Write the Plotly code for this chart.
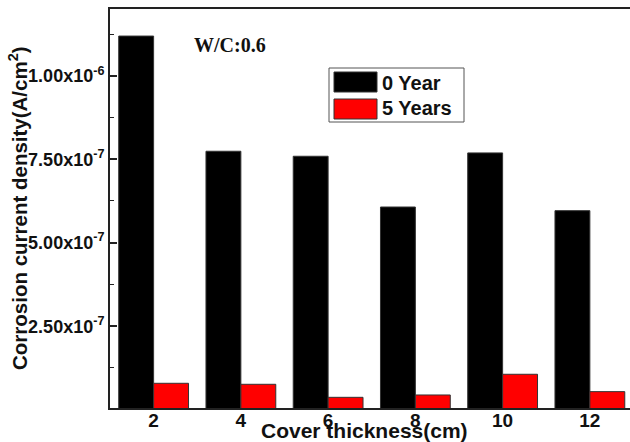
import plotly.graph_objects as go

thickness = [2, 4, 6, 8, 10, 12]
series_names = ["0 Year", "5 Years"]
year0 = [1.119e-6, 7.74e-7, 7.59e-7, 6.07e-7, 7.69e-7, 5.96e-7]
year5 = [7.9e-8, 7.6e-8, 3.7e-8, 4.4e-8, 1.06e-7, 5.4e-8]
ytick_vals = [2.5e-7, 5.0e-7, 7.5e-7, 1.0e-6]
ytick_text = ["2.50x10<sup>-7</sup>", "5.00x10<sup>-7</sup>", "7.50x10<sup>-7</sup>", "1.00x10<sup>-6</sup>"]
yminor_vals = [1.25e-7, 3.75e-7, 6.25e-7, 8.75e-7, 1.125e-6]
colors = ["#000000", "#ff0000"]

FONT = "Liberation Sans"

fig = go.Figure()
for name, vals, col in zip(series_names, [year0, year5], colors):
    fig.add_trace(go.Bar(
        x=thickness, y=vals, name=name,
        marker=dict(color=col, line=dict(color="#333333", width=1)),
        showlegend=False,
    ))

W, H = 630, 442
L, R, T, B = 110, 0, 9, 34
pw, ph = W - L - R, H - T - B

def px(x):
    return (x - L) / pw

def py(y):
    return (H - B - y) / ph

fig.update_layout(
    width=W, height=H,
    margin=dict(l=L, r=R, t=T, b=B, autoexpand=False),
    paper_bgcolor="white", plot_bgcolor="white",
    barmode="group", bargap=0.2, bargroupgap=0,
    font=dict(family=FONT, color="#111111"),
    xaxis=dict(
        range=[1, 12.92], tickvals=thickness, ticktext=[str(t) for t in thickness],
        showgrid=False, zeroline=False, showline=True, linecolor="#222222", linewidth=2,
        mirror=True, ticks="", tickfont=dict(family=FONT, size=19, weight="bold"),
        ticklabelstandoff=-6, automargin=False,
    ),
    yaxis=dict(
        range=[5e-9, 1.2e-6], tickmode="array", tickvals=ytick_vals, ticktext=ytick_text,
        showgrid=False, zeroline=False, showline=True, linecolor="#222222", linewidth=2,
        ticks="inside", ticklen=7, tickwidth=1.5, tickcolor="#222222",
        minor=dict(tickmode="array", tickvals=yminor_vals, ticks="inside", ticklen=4,
                   tickwidth=1, tickcolor="#222222", showgrid=False),
        tickfont=dict(family=FONT, size=18, weight="bold"), automargin=False,
    ),
)

annotations = [
    dict(text="Cover thickness(cm)", x=px(364), y=py(430), xref="paper", yref="paper",
         showarrow=False, xanchor="center", yanchor="middle",
         font=dict(family=FONT, size=21, weight="bold", color="#111111")),
    dict(text="Corrosion current density(A/cm<sup>2</sup>)", x=px(18), y=py(208),
         xref="paper", yref="paper", textangle=-90, showarrow=False,
         xanchor="center", yanchor="middle",
         font=dict(family=FONT, size=20.5, weight="bold", color="#111111")),
    dict(text="W/C:0.6", x=px(230), y=py(45), xref="paper", yref="paper",
         showarrow=False, xanchor="center", yanchor="middle",
         font=dict(family="Liberation Serif", size=20, weight="bold", color="#111111")),
]

shapes = [
    dict(type="rect", xref="paper", yref="paper", x0=px(329), x1=px(464), y0=py(122), y1=py(68),
         line=dict(color="#555555", width=1), fillcolor="white"),
]
legend_rows = [(72, 92, 83), (99, 119, 108)]
for (y0, y1, yc), name, col in zip(legend_rows, series_names, colors):
    shapes.append(dict(type="rect", xref="paper", yref="paper", x0=px(334), x1=px(377),
                       y0=py(y1), y1=py(y0), line=dict(color="#333333", width=1), fillcolor=col))
    annotations.append(dict(text=name, x=px(380), y=py(yc), xref="paper", yref="paper",
                            showarrow=False, xanchor="left", yanchor="middle",
                            font=dict(family=FONT, size=20, weight="bold", color="#111111")))

fig.update_layout(annotations=annotations, shapes=shapes)
fig.write_html(
    "out.html",
    config={"displayModeBar": False},
    post_script="document.body.style.margin='0';document.body.style.overflow='hidden';",
)
